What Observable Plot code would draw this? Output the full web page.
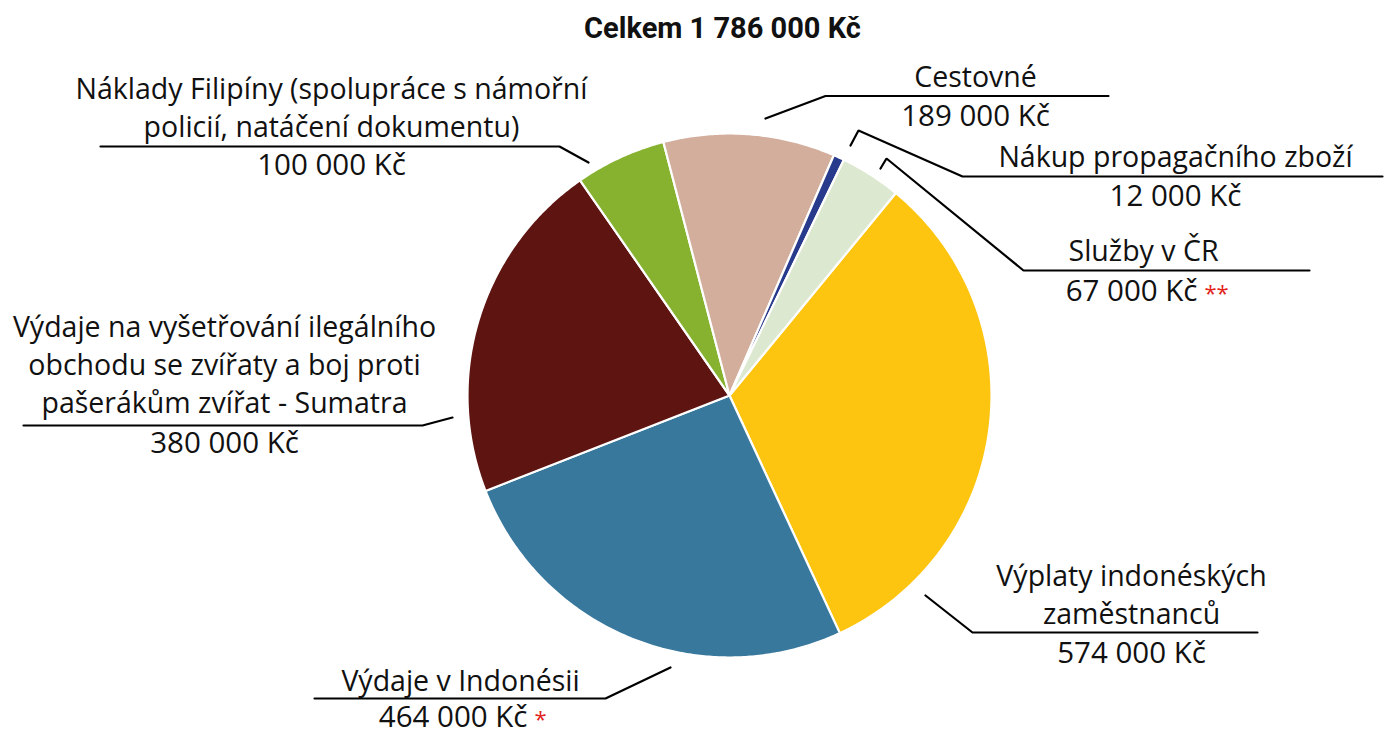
<!DOCTYPE html>
<html>
<head>
<meta charset="utf-8">
<script src="https://cdn.jsdelivr.net/npm/d3@7"></script>
<script src="https://cdn.jsdelivr.net/npm/@observablehq/plot@0.6"></script>
<style>
  html, body { margin: 0; padding: 0; background: #fff; }
  #chart svg { display: block; }
</style>
</head>
<body>
<div id="chart"></div>
<script>
// ---- DATA ----
const categories = [
  "Výplaty indonéských zaměstnanců",
  "Výdaje v Indonésii",
  "Výdaje na vyšetřování ilegálního obchodu se zvířaty a boj proti pašerákům zvířat - Sumatra",
  "Náklady Filipíny (spolupráce s námořní policií, natáčení dokumentu)",
  "Cestovné",
  "Nákup propagačního zboží",
  "Služby v ČR"
];
const values = [574000, 464000, 380000, 100000, 189000, 12000, 67000];
const footnotes = ["", "*", "", "", "", "", "**"];
const labelLines = [
  ["Výplaty indonéských", "zaměstnanců"],
  ["Výdaje v Indonésii"],
  ["Výdaje na vyšetřování ilegálního", "obchodu se zvířaty a boj proti", "pašerákům zvířat - Sumatra"],
  ["Náklady Filipíny (spolupráce s námořní", "policií, natáčení dokumentu)"],
  ["Cestovné"],
  ["Nákup propagačního zboží"],
  ["Služby v ČR"]
];
const titlePrefix = "Celkem";

// ---- STYLE / LAYOUT ----
const colors = ["#FDC50F", "#38789C", "#5E1410", "#86B22F", "#D3AE9C", "#283A8C", "#DCE8CF"];
const W = 1384, H = 731;
const pie = {cx: 729, cy: 395, r: 262, startDeg: 39.4};
const labelLayout = [
  {x: 1131, y: 623, vy: 662, leader: [[925, 595], [972, 632], [1257, 632]]},
  {x: 460, y: 690, vy: 726, vx: 527, leader: [[670, 667], [605, 698], [314, 698]]},
  {x: 224, y: 412, vy: 452, leader: [[452, 417], [422, 425], [23, 425]]},
  {x: 331, y: 136, vy: 174, leader: [[588, 162], [559, 146], [100, 146]]},
  {x: 975, y: 86, vy: 125, leader: [[765, 118], [825, 95.5], [1108, 95.5]]},
  {x: 1175, y: 166, vy: 205, leader: [[850, 145], [858, 130], [962, 176], [1382, 176]]},
  {x: 1143, y: 260, vy: 300, vx: 1197, leader: [[880, 168], [886, 158], [1023, 270], [1309, 270]]}
];
const FONT = "'Open Sans', Roboto, sans-serif";
const TITLE_FONT = "Roboto, 'Open Sans', sans-serif";
const FS = 28.5;
const FS_VALUE = 29.5;

// ---- BUILD ----
const locale = d3.formatLocale({decimal: ",", thousands: " ", grouping: [3], currency: ["", " Kč"]});
const fmt = locale.format("$,.0f");
const total = d3.sum(values);

const arcs = d3.pie().sort(null).value(d => d)
  .startAngle(pie.startDeg * Math.PI / 180)
  .endAngle(pie.startDeg * Math.PI / 180 + 2 * Math.PI)(values);

const slicePts = [];
arcs.forEach((a, i) => {
  const name = categories[i];
  slicePts.push({name, x: pie.cx, y: pie.cy});
  const n = Math.max(2, Math.ceil((a.endAngle - a.startAngle) / (Math.PI / 360)));
  for (let k = 0; k <= n; k++) {
    const t = a.startAngle + (a.endAngle - a.startAngle) * k / n;
    slicePts.push({name, x: pie.cx + pie.r * Math.sin(t), y: pie.cy - pie.r * Math.cos(t)});
  }
  slicePts.push({name, x: pie.cx, y: pie.cy});
});

const labels = categories.map((name, i) => ({
  name,
  label: labelLines[i].join("\n"),
  valueText: fmt(values[i]),
  note: footnotes[i],
  ...labelLayout[i]
}));
const leaderPts = labels.flatMap(d => d.leader.map(([x, y]) => ({name: d.name, x, y})));

const chart = Plot.plot({
  width: W,
  height: H,
  margin: 0,
  x: {domain: [0, W], range: [0, W], axis: null},
  y: {domain: [0, H], range: [0, H], axis: null},
  color: {type: "ordinal", domain: categories, range: colors},
  style: {fontFamily: FONT, background: "#fff", color: "#111"},
  marks: [
    Plot.line(slicePts, {x: "x", y: "y", z: "name", fill: "name", stroke: "#fff", strokeWidth: 2.2, strokeLinejoin: "round", curve: "linear"}),
    Plot.line(leaderPts, {x: "x", y: "y", z: "name", stroke: "#000", strokeWidth: 2.2, strokeLinejoin: "miter"}),
    Plot.text(labels, {x: "x", y: "y", text: "label", textAnchor: "middle", lineAnchor: "bottom", lineHeight: 1.32, fontSize: FS, fill: "#111", fontFamily: FONT}),
    Plot.text(labels.filter(d => !d.note), {x: "x", y: "vy", text: "valueText", textAnchor: "middle", lineAnchor: "bottom", fontSize: FS_VALUE, fill: "#111", fontFamily: FONT}),
    Plot.text(labels.filter(d => d.note), {x: "vx", y: "vy", text: "valueText", textAnchor: "end", lineAnchor: "bottom", fontSize: FS_VALUE, fill: "#111", fontFamily: FONT}),
    Plot.text(labels.filter(d => d.note), {x: "vx", y: "vy", text: "note", dx: 7, textAnchor: "start", lineAnchor: "bottom", fontSize: 22, fill: "#E2231A", fontFamily: FONT}),
    Plot.text([`${titlePrefix} ${fmt(total)}`], {x: [722], y: [37], text: d => d, textAnchor: "middle", lineAnchor: "bottom", fontSize: 29, fontWeight: "bold", fill: "#111", fontFamily: TITLE_FONT})
  ]
});
document.getElementById("chart").appendChild(chart);
</script>
</body>
</html>
